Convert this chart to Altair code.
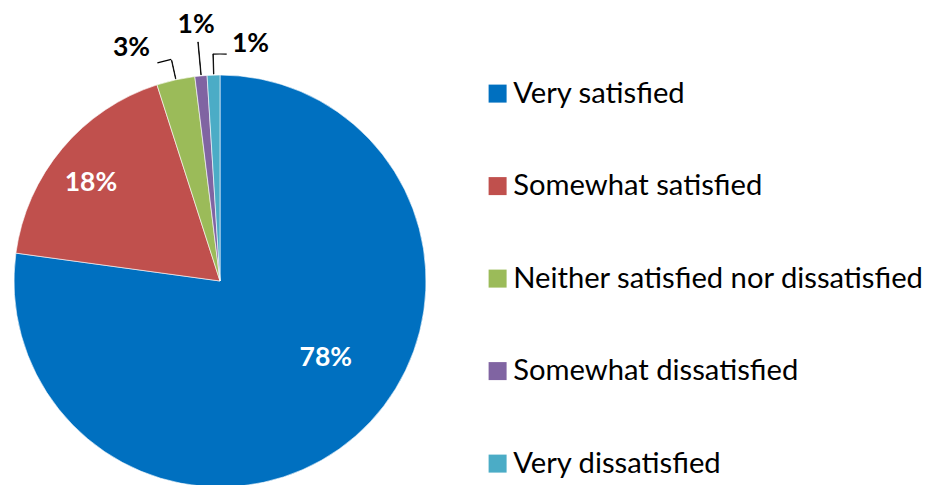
import altair as alt
import pandas as pd

categories = [
    "Very satisfied",
    "Somewhat satisfied",
    "Neither satisfied nor dissatisfied",
    "Somewhat dissatisfied",
    "Very dissatisfied",
]
values = [77.2, 17.9, 3.0, 0.95, 1.0]
labels = ["78%", "18%", "3%", "1%", "1%"]
colors = ["#0070C0", "#C0504D", "#9BBB59", "#8064A2", "#4BACC6"]

df = pd.DataFrame({"category": categories, "value": values, "label": labels, "order": list(range(len(categories)))})
total = float(sum(values))
df["end"] = df["value"].cumsum()
df["start"] = df["end"] - df["value"]
df["mid"] = (df["start"] + df["end"]) / 2
df["mid2"] = df["mid"] + 0.03

CX, CY, R = 212, 273, 206
FONT = "Lato"

theta_scale = alt.Scale(domain=[0, total])
base = alt.Chart(df).encode(x=alt.value(CX), y=alt.value(CY))

pie = base.mark_arc(radius=R, stroke="white", strokeWidth=0.6).encode(
    theta=alt.Theta("start:Q", scale=theta_scale),
    theta2="end:Q",
    color=alt.Color(
        "category:N",
        scale=alt.Scale(domain=categories, range=colors),
        sort=categories,
        legend=alt.Legend(
            title=None,
            orient="none",
            legendX=475,
            legendY=71,
            symbolType="square",
            symbolSize=324,
            symbolStrokeWidth=0,
            labelFont=FONT,
            labelFontSize=29.2,
            labelColor="black",
            labelOffset=1,
            rowPadding=62.5,
            padding=0,
            labelLimit=600,
        ),
    ),
    order=alt.Order("order:Q"),
)

layers = [pie]

# leader lines (radial segments) for small slices
leader_specs = [(2, 226), (3, 240), (4, 227)]
for idx, r2 in leader_specs:
    layers.append(
        base.transform_filter(alt.datum.order == idx)
        .mark_arc(radius=R + 1, radius2=r2, fill="black", stroke="black", strokeWidth=0.8)
        .encode(theta=alt.Theta("mid:Q", scale=theta_scale), theta2="mid2:Q")
    )

# short elbow segments (nearly horizontal arcs at the leader's outer end)
elbow_specs = [(2, 227, -1.0), (4, 227, 0.97)]
for idx, r, delta in elbow_specs:
    layers.append(
        base.transform_filter(alt.datum.order == idx)
        .transform_calculate(elbow=f"datum.mid + ({delta})")
        .mark_arc(radius=r, radius2=r, fill="transparent", stroke="black", strokeWidth=1.2)
        .encode(theta=alt.Theta("mid:Q", scale=theta_scale), theta2="elbow:Q")
    )

# labels: (index, radius, dx, dy, color)
label_specs = [
    (0, 132, 19, -22, "white"),
    (1, 162, -5, 6, "white"),
    (2, 249, -35, 10, "black"),
    (3, 258, 0, 1, "black"),
    (4, 239, 38, 2, "black"),
]
for idx, r, dx, dy, col in label_specs:
    layers.append(
        base.transform_filter(alt.datum.order == idx)
        .mark_text(radius=r, dx=dx, dy=dy, font=FONT, fontSize=26.5, fontWeight="bold", color=col, baseline="middle", align="center")
        .encode(theta=alt.Theta("mid:Q", scale=theta_scale), text="label:N")
    )

chart = (
    alt.layer(*layers)
    .properties(width=918, height=477, padding=0, autosize=alt.AutoSizeParams(type="none"), background="white")
    .configure_view(stroke=None)
)

chart.save("out.html", embed_options={"renderer": "svg", "actions": False})
